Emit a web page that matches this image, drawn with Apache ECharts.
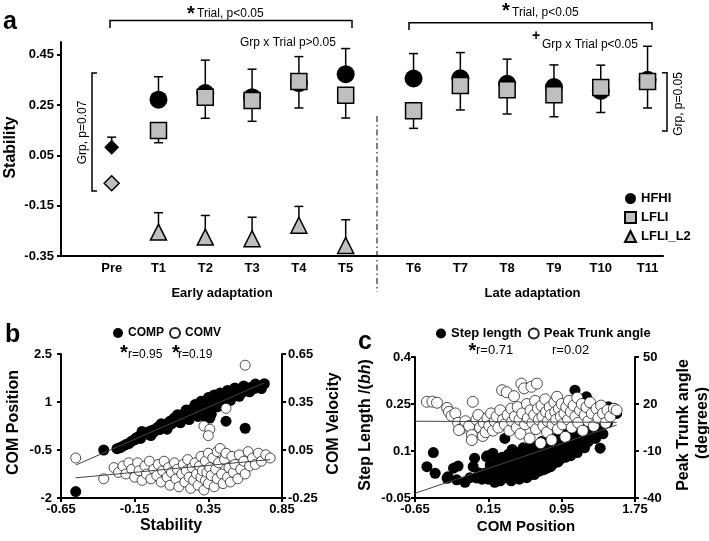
<!DOCTYPE html>
<html><head><meta charset="utf-8">
<script src="https://cdn.jsdelivr.net/npm/echarts@6/dist/echarts.min.js"></script>
<style>html,body{margin:0;padding:0;background:#fff}#c{width:709px;height:541px}</style>
</head><body><div id="c"></div>
<script>
const FONT = '"Liberation Sans", Arial, sans-serif';

// ---------- Panel a ----------
const trialLabels = ['Pre','T1','T2','T3','T4','T5','T6','T7','T8','T9','T10','T11'];
const trialPos    = [0, 1, 2, 3, 4, 5, 6.45, 7.45, 8.45, 9.45, 10.45, 11.45];
const hfhiMean  = [0.082, 0.271, 0.297, 0.281, 0.337, 0.372, 0.355, 0.356, 0.334, 0.321, 0.306, 0.350];
const hfhiUpper = [0.122, 0.362, 0.428, 0.392, 0.442, 0.474, 0.454, 0.458, 0.432, 0.409, 0.408, 0.483];
const lfliMean  = [-0.061, 0.148, 0.281, 0.268, 0.343, 0.288, 0.227, 0.327, 0.310, 0.290, 0.319, 0.343];
const lfliLower = [null, 0.100, 0.197, 0.185, 0.238, 0.198, 0.157, 0.230, 0.214, 0.203, 0.220, 0.238];
const l2Trials  = ['T1','T2','T3','T4','T5'];
const l2Mean    = [-0.255, -0.275, -0.281, -0.228, -0.308];
const l2Upper   = [-0.178, -0.189, -0.196, -0.153, -0.206];
const stabTicks = [-0.35, -0.15, 0.05, 0.25, 0.45];

// ---------- Panel b ----------
const compPoints = [[-0.55,-1.80],[-0.36,-0.50],[-0.27,-0.46],[-0.25,-0.43],[-0.23,-0.38],[-0.21,-0.33],[-0.19,-0.30],[-0.17,-0.22],[-0.15,-0.18],[-0.14,-0.12],[-0.12,-0.08],[-0.11,-0.14],[-0.10,0.08],[-0.09,-0.02],[-0.08,0.03],[-0.06,0.00],[-0.05,0.08],[-0.04,-0.05],[-0.03,0.12],[-0.02,0.06],[0.00,0.18],[0.01,0.22],[0.02,0.14],[0.03,0.32],[0.04,0.26],[0.05,0.30],[0.06,0.22],[0.07,0.15],[0.08,0.35],[0.09,0.40],[0.10,0.32],[0.11,0.45],[0.12,0.50],[0.13,0.40],[0.14,0.60],[0.15,0.55],[0.16,0.48],[0.16,0.35],[0.17,0.60],[0.18,0.52],[0.19,0.66],[0.20,0.58],[0.20,0.75],[0.21,0.70],[0.22,0.62],[0.22,0.45],[0.23,0.76],[0.24,0.66],[0.25,0.80],[0.26,0.70],[0.26,0.92],[0.27,0.84],[0.27,0.62],[0.28,0.76],[0.28,0.55],[0.29,0.90],[0.29,0.68],[0.30,0.82],[0.30,1.02],[0.31,0.95],[0.31,0.74],[0.32,0.60],[0.32,0.88],[0.33,1.00],[0.33,0.78],[0.33,0.55],[0.34,0.66],[0.34,0.92],[0.35,1.04],[0.35,0.84],[0.35,1.14],[0.36,0.72],[0.36,0.96],[0.37,1.08],[0.37,0.62],[0.38,0.90],[0.38,1.00],[0.39,1.12],[0.39,1.22],[0.40,0.94],[0.40,1.05],[0.41,1.15],[0.41,0.85],[0.42,1.00],[0.43,1.10],[0.43,1.28],[0.44,1.20],[0.45,1.06],[0.45,0.95],[0.46,1.16],[0.47,1.25],[0.48,1.12],[0.48,1.36],[0.49,1.22],[0.50,1.30],[0.50,1.05],[0.51,1.18],[0.52,1.27],[0.53,1.34],[0.53,1.44],[0.54,1.24],[0.55,1.32],[0.56,1.18],[0.57,1.38],[0.58,1.30],[0.59,1.50],[0.60,1.42],[0.62,1.38],[0.63,1.32],[0.64,1.46],[0.66,1.42],[0.67,1.56],[0.68,1.50],[0.70,1.48],[0.71,1.42],[0.73,1.57],[0.36,0.50],[0.47,0.40],[0.60,0.18]];
const comvPoints = [[-0.55,0.00],[-0.36,-0.13],[-0.29,-0.06],[-0.26,-0.09],[-0.23,-0.05],[-0.21,-0.10],[-0.19,-0.03],[-0.17,-0.07],[-0.15,-0.12],[-0.13,-0.03],[-0.12,-0.08],[-0.10,-0.14],[-0.08,-0.05],[-0.07,-0.10],[-0.05,-0.02],[-0.04,-0.13],[-0.02,-0.07],[0.00,-0.11],[0.01,-0.04],[0.03,-0.15],[0.04,-0.08],[0.05,-0.02],[0.07,-0.12],[0.08,-0.06],[0.09,-0.17],[0.10,-0.09],[0.12,-0.03],[0.13,-0.13],[0.14,-0.07],[0.15,-0.18],[0.17,-0.10],[0.18,-0.04],[0.19,-0.15],[0.20,-0.08],[0.21,-0.01],[0.22,-0.12],[0.23,-0.19],[0.24,-0.06],[0.25,-0.14],[0.26,-0.03],[0.27,-0.10],[0.28,-0.17],[0.29,-0.05],[0.30,0.01],[0.30,-0.12],[0.31,-0.08],[0.32,-0.20],[0.33,-0.02],[0.33,-0.14],[0.34,-0.09],[0.35,0.03],[0.35,-0.16],[0.36,-0.06],[0.37,-0.11],[0.38,0.00],[0.39,-0.18],[0.40,-0.07],[0.41,0.04],[0.41,-0.13],[0.42,-0.03],[0.43,0.06],[0.44,-0.10],[0.45,-0.16],[0.46,-0.01],[0.47,0.03],[0.48,-0.12],[0.49,-0.06],[0.50,-0.15],[0.51,0.01],[0.52,-0.09],[0.53,-0.04],[0.55,-0.13],[0.56,0.02],[0.57,-0.07],[0.59,-0.02],[0.60,-0.10],[0.62,0.04],[0.63,-0.05],[0.65,0.00],[0.67,-0.04],[0.69,0.03],[0.71,-0.02],[0.74,0.02],[0.77,0.00],[0.60,0.58],[0.47,0.31],[0.32,0.20],[0.36,0.18],[0.35,0.14]];
const compFit = [[-0.55,-0.97],[0.73,1.60]];
const comvFit = [[-0.55,-0.124],[0.77,-0.010]];
const bXTicks = [-0.65,-0.15,0.35,0.85];
const bYTicks = [-2,-0.5,1,2.5];
const bY2Ticks = [-0.25,0.05,0.35,0.65];

// ---------- Panel c ----------
const stepPoints = [[-0.52,0.05],[-0.45,0.095],[-0.43,0.029],[-0.30,0.013],[-0.29,0.018],[-0.23,0.045],[-0.18,0.052],[-0.195,0.008],[-0.105,0.0],[-0.05,0.015],[0.0,0.077],[-0.015,0.05],[0.02,0.014],[0.05,0.03],[0.08,0.01],[0.13,0.082],[0.20,0.093],[0.12,0.03],[0.14,0.085],[0.15,0.01],[0.17,0.055],[0.18,0.02],[0.21,0.04],[0.22,0.0],[0.24,0.07],[0.25,0.025],[0.27,0.05],[0.28,0.005],[0.30,0.08],[0.31,0.035],[0.33,0.14],[0.33,0.06],[0.34,0.015],[0.36,0.045],[0.37,0.09],[0.38,0.025],[0.39,0.065],[0.40,0.005],[0.41,0.105],[0.42,0.04],[0.43,0.075],[0.44,0.02],[0.45,0.055],[0.46,0.095],[0.47,0.03],[0.48,0.07],[0.49,0.01],[0.50,0.05],[0.51,0.085],[0.52,0.025],[0.53,0.11],[0.54,0.06],[0.55,0.035],[0.56,0.08],[0.57,0.015],[0.58,0.10],[0.59,0.05],[0.60,0.07],[0.61,0.03],[0.62,0.12],[0.63,0.055],[0.64,0.09],[0.65,0.025],[0.66,0.075],[0.67,0.045],[0.68,0.11],[0.69,0.065],[0.70,0.035],[0.71,0.095],[0.72,0.055],[0.73,0.13],[0.74,0.08],[0.75,0.04],[0.76,0.105],[0.77,0.06],[0.78,0.085],[0.79,0.045],[0.80,0.12],[0.81,0.07],[0.82,0.10],[0.83,0.05],[0.84,0.14],[0.85,0.085],[0.86,0.06],[0.87,0.115],[0.88,0.075],[0.89,0.13],[0.90,0.09],[0.91,0.065],[0.92,0.15],[0.93,0.10],[0.94,0.075],[0.95,0.125],[0.96,0.085],[0.97,0.16],[0.98,0.11],[0.99,0.08],[1.00,0.14],[1.02,0.10],[1.03,0.17],[1.04,0.12],[1.05,0.085],[1.07,0.15],[1.08,0.11],[1.10,0.19],[1.11,0.13],[1.12,0.095],[1.14,0.165],[1.15,0.12],[1.17,0.20],[1.18,0.14],[1.20,0.11],[1.22,0.175],[1.24,0.13],[1.26,0.21],[1.28,0.15],[1.30,0.19],[1.32,0.14],[1.34,0.225],[1.36,0.17],[1.38,0.20],[1.40,0.155],[1.42,0.235],[1.45,0.19],[1.48,0.215],[1.52,0.235],[1.55,0.22],[1.095,0.294],[1.22,0.273],[1.46,0.241],[1.37,0.109]];
const trunkPoints = [[-0.52,21.4],[-0.46,21.5],[-0.41,20.8],[-0.30,17.5],[-0.28,15],[-0.25,12.5],[-0.21,14],[-0.18,8],[-0.15,4],[-0.17,3.4],[-0.10,9],[-0.06,6],[-0.02,21.4],[-0.03,0.2],[-0.03,-3],[0.02,10],[0.04,13],[0.06,5],[0.09,-0.4],[0.10,8],[0.12,2],[0.14,11],[0.16,6],[0.18,14],[0.20,3],[0.22,9],[0.24,12],[0.26,5],[0.28,16],[0.30,28.8],[0.31,10],[0.33,7],[0.35,27.5],[0.36,13],[0.38,3],[0.40,17],[0.41,9],[0.43,25],[0.44,12],[0.46,5],[0.47,18],[0.49,10],[0.51,33],[0.50,1],[0.52,14],[0.54,30],[0.55,7],[0.57,20],[0.58,11],[0.60,-2],[0.61,16],[0.62,31],[0.63,8],[0.65,13],[0.66,22],[0.67,4],[0.68,33],[0.69,17],[0.70,10],[0.72,-5],[0.73,19],[0.74,12],[0.75,6],[0.77,23],[0.78,15],[0.79,2],[0.80,9],[0.82,18],[0.83,13],[0.84,-3],[0.85,7],[0.87,21],[0.88,15],[0.89,10],[0.90,24.6],[0.91,4],[0.92,17],[0.94,12],[0.95,20],[0.96,7],[0.98,14],[0.99,-1],[1.00,18],[1.02,10],[1.03,22],[1.05,15],[1.06,5],[1.08,19],[1.10,12],[1.12,24],[1.13,8],[1.15,16],[1.17,20],[1.18,3],[1.20,13],[1.22,18],[1.24,9],[1.26,21],[1.28,14],[1.30,6],[1.33,17],[1.35,11],[1.38,19],[1.40,14],[1.43,8],[1.45,16],[1.48,12],[1.52,17],[1.55,16]];
const stepFit  = [[-0.65,-0.035],[1.55,0.183]];
const trunkFit = [[-0.65,9.0],[1.55,8.3]];
const cXTicks = [-0.65,0.15,0.95,1.75];
const cYTicks = [-0.05,0.1,0.25,0.4];
const cY2Ticks = [-40,-10,20,50];

const GRAY = '#bfbfbf';

function mkAxis(o) {
  return {
    type: 'value', gridIndex: o.grid, min: o.min, max: o.max, position: o.position,
    splitLine: { show: false },
    axisLine: { show: true, onZero: false, lineStyle: { color: '#000', width: 2 } },
    axisTick: { show: o.ticks !== false, inside: false, length: 4, customValues: o.values, lineStyle: { color: '#000', width: 2 } },
    axisLabel: { customValues: o.values, formatter: o.fmt, margin: o.margin, color: '#000', fontWeight: 'bold', fontSize: 13, fontFamily: FONT }
  };
}

function renderErr(params, api) {
  const x = api.value(0), m = api.value(1), e = api.value(2);
  const p0 = api.coord([x, m]), p1 = api.coord([x, e]);
  const cw = 4.5;
  const st = { stroke: '#000', lineWidth: 1.5 };
  return { type: 'group', children: [
    { type: 'line', shape: { x1: p0[0], y1: p0[1], x2: p1[0], y2: p1[1] }, style: st },
    { type: 'line', shape: { x1: p1[0] - cw, y1: p1[1], x2: p1[0] + cw, y2: p1[1] }, style: st }
  ]};
}

const errData = [];
trialPos.forEach((x, i) => { errData.push([x, hfhiMean[i], hfhiUpper[i]]); });
trialPos.forEach((x, i) => { if (lfliLower[i] !== null) errData.push([x, lfliMean[i], lfliLower[i]]); });
l2Trials.forEach((t, i) => { errData.push([trialPos[trialLabels.indexOf(t)], l2Mean[i], l2Upper[i]]); });

const hfhiData = trialPos.map((x, i) => i === 0 ? { value: [x, hfhiMean[i]], symbol: 'diamond', symbolSize: 15 } : [x, hfhiMean[i]]);
const lfliData = trialPos.map((x, i) => i === 0 ? { value: [x, lfliMean[i]], symbol: 'diamond', symbolSize: 15 } : [x, lfliMean[i]]);
const l2Data = l2Trials.map((t, i) => [trialPos[trialLabels.indexOf(t)], l2Mean[i]]);

function txt(text, x, y, font, align, rot, extra) {
  const st = Object.assign({ text: text, x: 0, y: 0, font: font, fill: '#000', textAlign: align || 'left', align: align || 'left', textVerticalAlign: 'middle', verticalAlign: 'middle' }, extra || {});
  return { type: 'text', x: x, y: y, rotation: rot || 0, style: st, z: 100 };
}
const F12 = '12px ' + FONT, F13 = '13px ' + FONT;
const B13 = 'bold 13px ' + FONT, B16 = 'bold 16px ' + FONT, B15 = 'bold 15px ' + FONT;
const STAR = 'bold 20px ' + FONT, LET = 'bold 25px ' + FONT;
const R90 = Math.PI / 2;
const lineSt = { stroke: '#000', lineWidth: 1.5, fill: null };

const graphics = [
  txt('a', 3, 22, LET), txt('b', 5, 335, LET), txt('c', 358, 342, LET),
  // panel a annotations
  { type: 'polyline', shape: { points: [[110, 28], [110, 20.5], [352, 20.5], [352, 28]] }, style: lineSt },
  txt('*', 191, 14.5, STAR, 'center'),
  txt('Trial, p<0.05', 197, 13.5, F12),
  txt('Grp x Trial p>0.05', 240, 43, F12),
  { type: 'polyline', shape: { points: [[97, 73], [92, 73], [92, 191], [97, 191]] }, style: lineSt },
  txt('Grp, p=0.07', 82.5, 132.5, F12, 'center', R90),
  { type: 'polyline', shape: { points: [[409, 30], [409, 22.7], [652, 22.7], [652, 30]] }, style: lineSt },
  txt('*', 506, 11.5, STAR, 'center'),
  txt('Trial, p<0.05', 512, 13, F12),
  txt('+', 536, 36, 'bold 14px ' + FONT, 'center'),
  txt('Grp x Trial p<0.05', 542, 44.5, F12),
  { type: 'polyline', shape: { points: [[662, 72.7], [667, 72.7], [667, 131], [662, 131]] }, style: lineSt },
  txt('Grp, p=0.05', 678.5, 104, F12, 'center', R90),
  { type: 'line', shape: { x1: 377, y1: 116, x2: 377, y2: 292 }, style: { stroke: '#000', lineWidth: 1, lineDash: [6, 3, 1.5, 3] } },
  txt('Early adaptation', 222, 293, B13, 'center'),
  txt('Late adaptation', 532.5, 293, B13, 'center'),
  txt('Stability', 11, 147.5, B16, 'center', R90),
  // panel b
  txt('*', 124, 353, STAR, 'center'), txt('r=0.95', 128, 355, F12),
  txt('*', 176, 353, STAR, 'center'), txt('r=0.19', 178, 355, F12),
  txt('COM Position', 14, 422.5, B16, 'center', R90),
  txt('COM Velocity', 334, 423.5, B16, 'center', R90),
  txt('Stability', 171, 526, B16, 'center'),
  // panel c
  txt('*', 472.5, 351.5, STAR, 'center'), txt('r=0.71', 476, 350, F13),
  txt('r=0.02', 552, 350, F13),
  txt('{n|Step Length /(}{i|bh}{n|)}', 366, 425, B16, 'center', R90, { rich: { n: { font: B16, fill: '#000' }, i: { font: 'italic bold 16px ' + FONT, fill: '#000' } } }),
  txt('Peak Trunk angle', 684, 425, B16, 'center', R90),
  txt('(degrees)', 702.5, 423, B16, 'center', R90),
  txt('COM Position', 526, 527, B15, 'center')
];

const legendText = { fontWeight: 'bold', fontSize: 13, color: '#000', fontFamily: FONT };
const fitLine = { type: 'line', symbol: 'none', silent: true, lineStyle: { color: '#444', width: 1 }, z: 5 };

const option = {
  animation: false,
  backgroundColor: '#fff',
  textStyle: { fontFamily: FONT },
  grid: [
    { left: 61, top: 42, width: 602, height: 214 },
    { left: 61, top: 354, width: 221, height: 144 },
    { left: 415, top: 357, width: 220, height: 141 }
  ],
  xAxis: [
    Object.assign(mkAxis({ grid: 0, min: -1.083, max: 11.78, values: trialPos, margin: 6,
      fmt: v => { const i = trialPos.findIndex(p => Math.abs(p - v) < 1e-6); return i >= 0 ? trialLabels[i] : ''; } }),
      { axisTick: { show: false } }),
    mkAxis({ grid: 1, min: -0.65, max: 0.85, values: bXTicks, margin: 5, fmt: v => v.toFixed(2) }),
    mkAxis({ grid: 2, min: -0.65, max: 1.75, values: cXTicks, margin: 5, fmt: v => v.toFixed(2) })
  ],
  yAxis: [
    mkAxis({ grid: 0, min: -0.35, max: 0.5, values: stabTicks, margin: 7, fmt: v => v.toFixed(2) }),
    mkAxis({ grid: 1, min: -2, max: 2.5, values: bYTicks, margin: 9, fmt: v => String(v) }),
    mkAxis({ grid: 1, min: -0.25, max: 0.65, values: bY2Ticks, margin: 6, position: 'right', fmt: v => v.toFixed(2) }),
    mkAxis({ grid: 2, min: -0.05, max: 0.4, values: cYTicks, margin: 4, fmt: v => String(v) }),
    mkAxis({ grid: 2, min: -40, max: 50, values: cY2Ticks, margin: 8, position: 'right', fmt: v => String(v) })
  ],
  legend: [
    { data: ['HFHI', 'LFLI', 'LFLI_L2'], orient: 'vertical', left: 624, top: 192, itemWidth: 11, itemHeight: 11, itemGap: 6, padding: 0, selectedMode: false, textStyle: legendText },
    { data: ['COMP', 'COMV'], orient: 'horizontal', left: 113, top: 327, itemWidth: 10, itemHeight: 10, itemGap: 5, padding: 0, selectedMode: false, textStyle: Object.assign({}, legendText, { fontSize: 12 }) },
    { data: ['Step length', 'Peak Trunk angle'], orient: 'horizontal', left: 436, top: 327, itemWidth: 10, itemHeight: 10, itemGap: 6, padding: 0, selectedMode: false, textStyle: legendText }
  ],
  graphic: graphics,
  series: [
    { type: 'custom', name: 'err', xAxisIndex: 0, yAxisIndex: 0, renderItem: renderErr, data: errData, encode: { x: 0, y: [1, 2] }, silent: true, z: 1 },
    { type: 'scatter', name: 'HFHI', xAxisIndex: 0, yAxisIndex: 0, symbol: 'circle', symbolSize: 18, itemStyle: { color: '#000', opacity: 1 }, data: hfhiData, z: 2 },
    { type: 'scatter', name: 'LFLI', xAxisIndex: 0, yAxisIndex: 0, symbol: 'rect', symbolSize: 16, itemStyle: { color: GRAY, borderColor: '#000', borderWidth: 1.5, opacity: 1 }, data: lfliData, z: 3 },
    { type: 'scatter', name: 'LFLI_L2', xAxisIndex: 0, yAxisIndex: 0, symbol: 'triangle', symbolSize: [16, 16], itemStyle: { color: GRAY, borderColor: '#000', borderWidth: 1.5, opacity: 1 }, data: l2Data, z: 3 },

    { type: 'scatter', name: 'COMP', xAxisIndex: 1, yAxisIndex: 1, symbolSize: 11, itemStyle: { color: '#000', opacity: 1 }, data: compPoints, z: 2 },
    { type: 'scatter', name: 'COMV', xAxisIndex: 1, yAxisIndex: 2, symbolSize: 10, itemStyle: { color: '#fff', borderColor: '#222', borderWidth: 0.8, opacity: 1 }, data: comvPoints, z: 3 },
    Object.assign({ name: 'compFit', xAxisIndex: 1, yAxisIndex: 1, data: compFit }, fitLine),
    Object.assign({ name: 'comvFit', xAxisIndex: 1, yAxisIndex: 2, data: comvFit }, fitLine),

    { type: 'scatter', name: 'Step length', xAxisIndex: 2, yAxisIndex: 3, symbolSize: 11, itemStyle: { color: '#000', opacity: 1 }, data: stepPoints, z: 2 },
    { type: 'scatter', name: 'Peak Trunk angle', xAxisIndex: 2, yAxisIndex: 4, symbolSize: 11, itemStyle: { color: '#fff', borderColor: '#222', borderWidth: 0.8, opacity: 1 }, data: trunkPoints, z: 3 },
    Object.assign({ name: 'stepFit', xAxisIndex: 2, yAxisIndex: 3, data: stepFit }, fitLine),
    Object.assign({ name: 'trunkFit', xAxisIndex: 2, yAxisIndex: 4, data: trunkFit }, fitLine)
  ]
};

const chart = echarts.init(document.getElementById('c'), null, { renderer: 'canvas' });
chart.setOption(option);
</script></body></html>
